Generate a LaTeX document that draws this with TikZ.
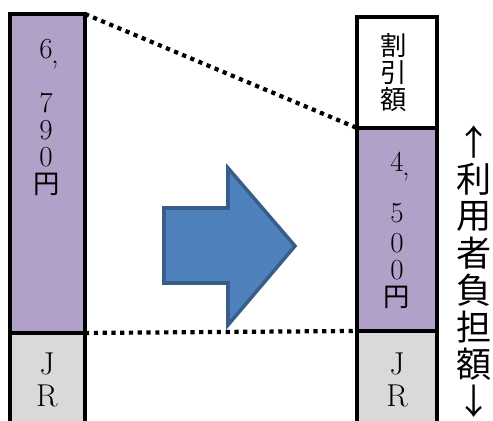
\documentclass[tikz,border=0pt]{standalone}
\usepackage{fontspec}
\usepackage{xcolor}
\usepackage{tikz}
\usetikzlibrary{positioning}
\newfontfamily\jpfont{Noto Sans CJK JP}
\definecolor{farepurple}{HTML}{B1A0C7}
\definecolor{jrgray}{HTML}{D9D9D9}
\definecolor{arrowblue}{HTML}{4F81BD}
\definecolor{arrowedge}{HTML}{385D8A}

\begin{document}
\begin{tikzpicture}[
  x=0.02cm, y=-0.02cm,
  barpart/.style={draw=black, line width=2.6pt, inner sep=0pt, outer sep=0pt},
  numtxt/.style={font=\fontsize{16.5}{16.5}\selectfont, inner sep=0pt},
  jrtxt/.style={font=\fontsize{18}{18}\selectfont, inner sep=0pt},
  kanjitxt/.style={font=\jpfont\fontsize{15}{15}\selectfont, inner sep=0pt},
  sidetxt/.style={font=\jpfont\fontsize{20}{20}\selectfont, inner sep=0pt},
  guide/.style={line width=2.4pt, dash pattern=on 2.4pt off 2.6pt},
]
  \useasboundingbox (0,0) rectangle (493,421);
  \clip (0,0) rectangle (493,421);

  % --- before: 6,790 ---
  \node[barpart, fill=jrgray, minimum width=1.5cm, minimum height=2.14cm] (jrold) at (47.5,386.5) {};
  \node[barpart, fill=farepurple, minimum width=1.5cm, minimum height=6.38cm] (fareold) at (47.5,173.5) {};

  \node[numtxt] (old6) at (46,49) {6};
  \node[numtxt] (oldc) at (55,65) {,};
  \foreach \t/\y [count=\i] in {7/103, 9/130, 0/157} {
    \node[numtxt] (oldd\i) at (46,\y) {\t};
  }
  \node[kanjitxt] (oldyen) at (47,184) {円};
  \node[jrtxt] (oldj) at (47,364) {J};
  \node[jrtxt] (oldr) at (47,396) {R};

  % --- after: discount + 4,500 ---
  \node[barpart, fill=jrgray, minimum width=1.6cm, minimum height=2.18cm] (jrnew) at (397,385.5) {};
  \node[barpart, fill=farepurple, minimum width=1.6cm, minimum height=4.06cm] (farenew) at (397,229.5) {};
  \node[barpart, fill=white, minimum width=1.6cm, minimum height=2.22cm] (discount) at (397,72.5) {};

  \foreach \t/\y [count=\i] in {割/45, 引/72.5, 額/100} {
    \node[kanjitxt] (disc\i) at (394,\y) {\t};
  }
  \node[numtxt] (new4) at (397,162) {4};
  \node[numtxt] (newc) at (406,177) {,};
  \foreach \t/\y [count=\i] in {5/213, 0/243, 0/270} {
    \node[numtxt] (newd\i) at (397,\y) {\t};
  }
  \node[kanjitxt] (newyen) at (397,297) {円};
  \node[jrtxt] (newj) at (397,364) {J};
  \node[jrtxt] (newr) at (397,396) {R};

  % user share, written downwards
  \foreach \t [count=\i] in {↑, 利, 用, 者, 負, 担, 額, ↓} {
    \node[sidetxt] (share\i) at (474,{142+37*(\i-1)}) {\t};
  }

  % --- dotted guides ---
  \draw[guide] (fareold.north east) -- (discount.south west);
  \draw[guide] (fareold.south east) -- (farenew.south west);

  % big arrow
  \draw[arrowedge, fill=arrowblue, line width=2pt, line join=miter]
    (164,208) -- (228,208) -- (228,168) -- (295,246)
    -- (228,325) -- (228,283) -- (164,283) -- cycle;
\end{tikzpicture}
\end{document}
